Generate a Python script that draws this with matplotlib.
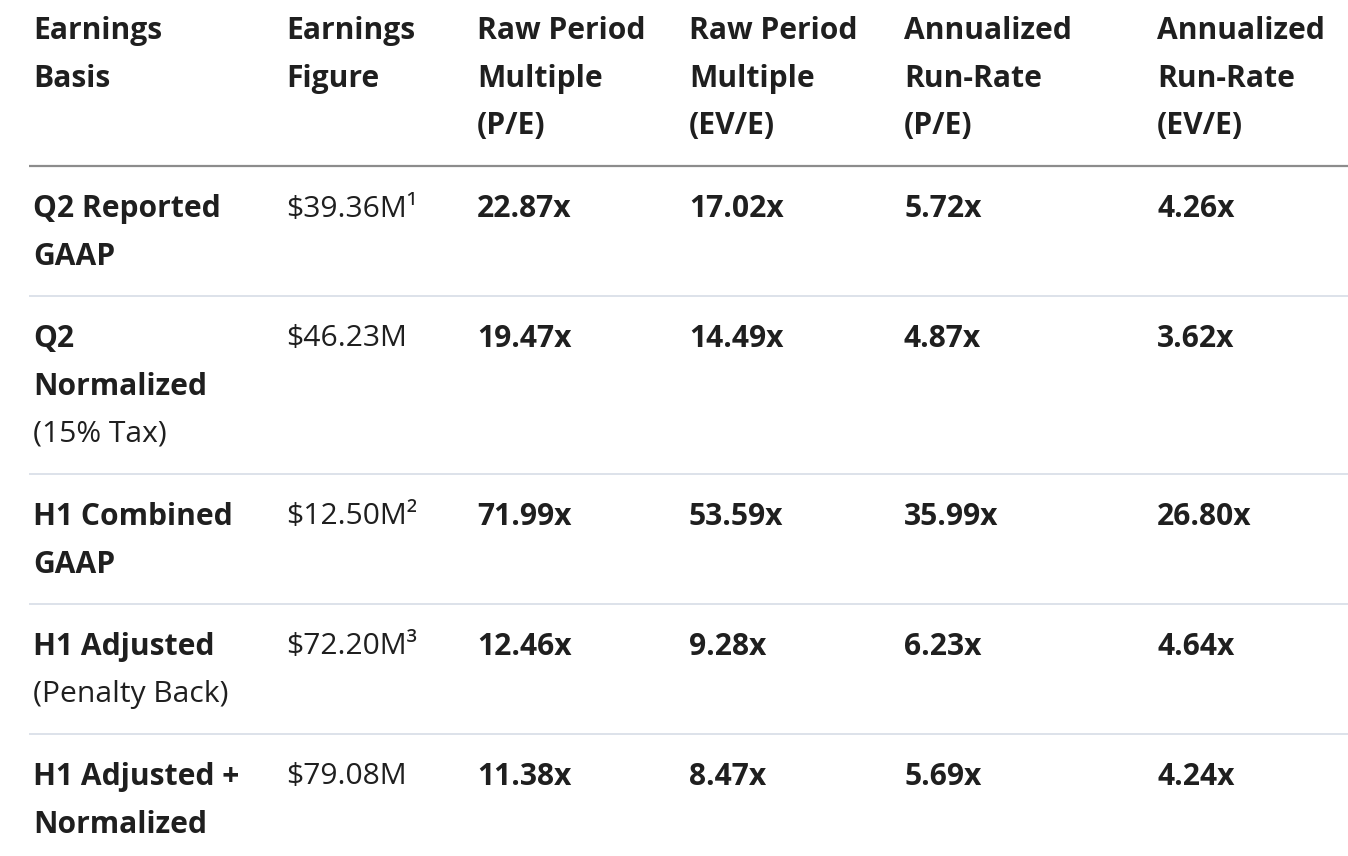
import matplotlib
matplotlib.use("Agg")
import matplotlib.pyplot as plt

# ---- data ----
headers = [
    ["Earnings", "Basis"],
    ["Earnings", "Figure"],
    ["Raw Period", "Multiple", "(P/E)"],
    ["Raw Period", "Multiple", "(EV/E)"],
    ["Annualized", "Run-Rate", "(P/E)"],
    ["Annualized", "Run-Rate", "(EV/E)"],
]
basis_bold = [
    ["Q2 Reported", "GAAP"],
    ["Q2", "Normalized"],
    ["H1 Combined", "GAAP"],
    ["H1 Adjusted"],
    ["H1 Adjusted +", "Normalized"],
]
basis_note = ["", "(15% Tax)", "", "(Penalty Back)", ""]
earnings_figure = ["$39.36M¹", "$46.23M", "$12.50M²", "$72.20M³", "$79.08M"]
raw_pe = ["22.87x", "19.47x", "71.99x", "12.46x", "11.38x"]
raw_eve = ["17.02x", "14.49x", "53.59x", "9.28x", "8.47x"]
ann_pe = ["5.72x", "4.87x", "35.99x", "6.23x", "5.69x"]
ann_eve = ["4.26x", "3.62x", "26.80x", "4.64x", "4.24x"]

# ---- layout ----
W, H = 1348, 856
col_x = [33, 286, 477, 689, 904, 1157]
header_y0 = 29
line_h = 47.7
row_top = [207, 337, 515, 645, 775]
header_rule = 166
row_rules = [296, 474, 604, 734]
rule_x0 = 29

TXT = "#1f1f1f"
FS = 21.6
FAM = ["Open Sans", "DejaVu Sans"]

fig = plt.figure(figsize=(W / 100, H / 100), dpi=100)
ax = fig.add_axes([0, 0, 1, 1])
ax.set_xlim(0, W)
ax.set_ylim(H, 0)
ax.axis("off")

def put(x, y, s, bold):
    ax.text(x, y + 2, s, ha="left", va="center", fontsize=FS, color=TXT,
            fontweight="bold" if bold else "normal", family=FAM)

# headers
for c, lines in enumerate(headers):
    for i, s in enumerate(lines):
        put(col_x[c], header_y0 + i * line_h, s, True)

ax.hlines(header_rule, rule_x0, W, colors="#8c8c8c", linewidth=1.6)
ax.hlines(row_rules, rule_x0, W, colors="#dde2ea", linewidth=1.4)

for r in range(len(basis_bold)):
    y0 = row_top[r]
    lines = basis_bold[r]
    for i, s in enumerate(lines):
        put(col_x[0], y0 + i * line_h, s, True)
    if basis_note[r]:
        put(col_x[0], y0 + len(lines) * line_h, basis_note[r], False)
    put(col_x[1], y0, earnings_figure[r], False)
    put(col_x[2], y0, raw_pe[r], True)
    put(col_x[3], y0, raw_eve[r], True)
    put(col_x[4], y0, ann_pe[r], True)
    put(col_x[5], y0, ann_eve[r], True)

fig.savefig("out.png", dpi=100, facecolor="white")
